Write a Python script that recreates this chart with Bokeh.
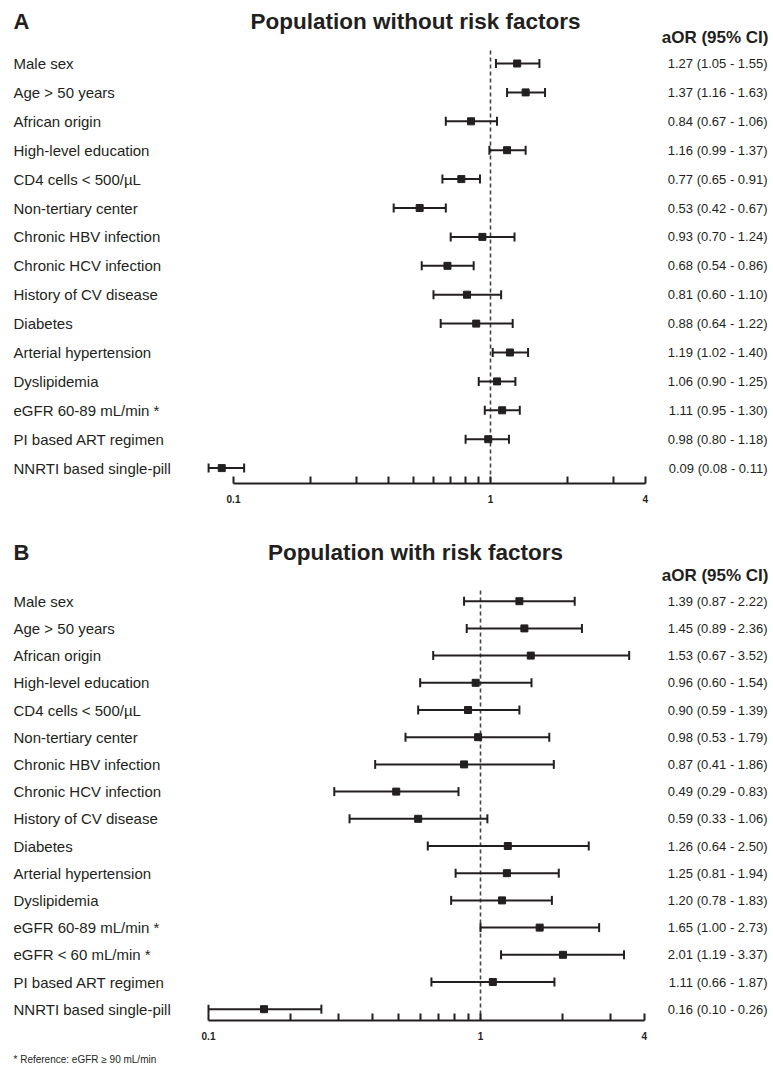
import numpy as np
from bokeh.plotting import figure
from bokeh.models import (Range1d, FixedTicker, CustomJSTickFormatter,
                          ColumnDataSource, LinearScale)
from bokeh.layouts import column
from bokeh.core.properties import value
from bokeh.embed import file_html
from bokeh.resources import INLINE

# ---------------- data ----------------
labels_a = ["Male sex", "Age > 50 years", "African origin", "High-level education",
            "CD4 cells < 500/µL", "Non-tertiary center", "Chronic HBV infection",
            "Chronic HCV infection", "History of CV disease", "Diabetes",
            "Arterial hypertension", "Dyslipidemia", "eGFR 60-89 mL/min *",
            "PI based ART regimen", "NNRTI based single-pill"]
aor_a = [1.27, 1.37, 0.84, 1.16, 0.77, 0.53, 0.93, 0.68, 0.81, 0.88, 1.19, 1.06, 1.11, 0.98, 0.09]
lo_a = [1.05, 1.16, 0.67, 0.99, 0.65, 0.42, 0.70, 0.54, 0.60, 0.64, 1.02, 0.90, 0.95, 0.80, 0.08]
hi_a = [1.55, 1.63, 1.06, 1.37, 0.91, 0.67, 1.24, 0.86, 1.10, 1.22, 1.40, 1.25, 1.30, 1.18, 0.11]

labels_b = ["Male sex", "Age > 50 years", "African origin", "High-level education",
            "CD4 cells < 500/µL", "Non-tertiary center", "Chronic HBV infection",
            "Chronic HCV infection", "History of CV disease", "Diabetes",
            "Arterial hypertension", "Dyslipidemia", "eGFR 60-89 mL/min *",
            "eGFR < 60 mL/min *", "PI based ART regimen", "NNRTI based single-pill"]
aor_b = [1.39, 1.45, 1.53, 0.96, 0.90, 0.98, 0.87, 0.49, 0.59, 1.26, 1.25, 1.20, 1.65, 2.01, 1.11, 0.16]
lo_b = [0.87, 0.89, 0.67, 0.60, 0.59, 0.53, 0.41, 0.29, 0.33, 0.64, 0.81, 0.78, 1.00, 1.19, 0.66, 0.10]
hi_b = [2.22, 2.36, 3.52, 1.54, 1.39, 1.79, 1.86, 0.83, 1.06, 2.50, 1.94, 1.83, 2.73, 3.37, 1.87, 0.26]

major_ticks = [0.1, 1, 4]
minor_ticks = [0.2, 0.3, 0.4, 0.5, 0.6, 0.7, 0.8, 0.9, 2, 3]

footnote = "* Reference: eGFR \u2265 90 mL/min"

INK = "#231f20"
FONT = value("Liberation Sans")
W = 773
ORIGIN_X = 0


def panel(letter, title, labels, aor, lo, hi, top_img, axis_img, bottom_border,
          row0, step, one_img, decade, title_y, header_y, dash_top):
    frame_h = axis_img - top_img
    H = frame_h + bottom_border
    left_img, right_img = ORIGIN_X, ORIGIN_X + W
    xs = 10 ** ((left_img - one_img) / decade)
    xe = 10 ** ((right_img - one_img) / decade)
    p = figure(width=W, height=H, x_axis_type="log",
               x_range=Range1d(xs, xe), y_range=Range1d(axis_img, top_img),
               output_backend="svg", toolbar_location=None, y_axis_location=None,
               min_border_left=0, min_border_right=0, min_border_top=0,
               min_border_bottom=bottom_border)
    p.extra_x_ranges = {"px": Range1d(left_img, right_img)}
    p.extra_x_scales = {"px": LinearScale()}
    p.outline_line_color = None
    p.grid.visible = False
    p.background_fill_color = "white"
    p.border_fill_color = "white"

    ax = p.xaxis[0]
    ax.bounds = (major_ticks[0], major_ticks[-1])
    ax.ticker = FixedTicker(ticks=major_ticks, minor_ticks=minor_ticks)
    ax.formatter = CustomJSTickFormatter(code="return tick.toString();")
    ax.axis_line_width = 2
    ax.axis_line_color = INK
    ax.major_tick_in = 7
    ax.major_tick_out = 0
    ax.minor_tick_in = 7
    ax.minor_tick_out = 0
    ax.major_tick_line_width = 2
    ax.minor_tick_line_width = 2
    ax.major_tick_line_color = INK
    ax.minor_tick_line_color = INK
    ax.major_label_text_font = "Liberation Sans"
    ax.major_label_text_font_style = "bold"
    ax.major_label_text_font_size = "10px"
    ax.major_label_text_color = INK
    ax.major_label_standoff = 11

    n = len(labels)
    ys = [row0 + step * i for i in range(n)]
    est = [f"{a:.2f} ({l:.2f} - {h:.2f})" for a, l, h in zip(aor, lo, hi)]
    src = ColumnDataSource(dict(label=labels, aor=aor, lo=lo, hi=hi, y=ys, est=est,
                                ylo=[y - 4.5 for y in ys], yhi=[y + 4.5 for y in ys],
                                xl=[13] * n, xr=[767] * n))

    # reference line at OR = 1
    p.segment(x0=[1], x1=[1], y0=[dash_top], y1=[axis_img], line_color="#444444",
              line_width=1.6, line_dash="4 3")

    # CIs
    p.segment(x0="lo", x1="hi", y0="y", y1="y", source=src, line_color=INK, line_width=2)
    p.segment(x0="lo", x1="lo", y0="ylo", y1="yhi", source=src, line_color=INK, line_width=2)
    p.segment(x0="hi", x1="hi", y0="ylo", y1="yhi", source=src, line_color=INK, line_width=2)
    p.scatter(x="aor", y="y", source=src, marker="square", size=7, fill_color=INK,
              line_color=INK)

    # row labels and estimates
    p.text(x="xl", y="y", text="label", source=src, x_range_name="px", text_font=FONT,
           text_font_size="15px", text_baseline="middle", text_align="left", text_color=INK)
    p.text(x="xr", y="y", text="est", source=src, x_range_name="px", text_font=FONT,
           text_font_size="13px", text_baseline="middle", text_align="right", text_color=INK)

    # headings
    p.text(x=[13], y=[title_y], text=[letter], x_range_name="px", text_font=FONT,
           text_font_size="22px", text_font_style="bold", text_baseline="middle",
           text_align="left", text_color=INK)
    p.text(x=[415], y=[title_y], text=[title], x_range_name="px", text_font=FONT,
           text_font_size="22.5px", text_font_style="bold", text_baseline="middle",
           text_align="center", text_color=INK)
    p.text(x=[768], y=[header_y], text=["aOR (95% CI)"], x_range_name="px", text_font=FONT,
           text_font_size="17px", text_font_style="bold", text_baseline="middle",
           text_align="right", text_color=INK)
    return p


pa = panel("A", "Population without risk factors", labels_a, aor_a, lo_a, hi_a,
           top_img=0, axis_img=483, bottom_border=32, row0=63, step=28.9,
           one_img=490, decade=257, title_y=21, header_y=37, dash_top=50)

pb = panel("B", "Population with risk factors", labels_b, aor_b, lo_b, hi_b,
           top_img=515, axis_img=1020, bottom_border=30, row0=600.7, step=27.2,
           one_img=480, decade=272, title_y=552, header_y=575, dash_top=590)

# footnote strip
pf = figure(width=W, height=1066 - 1050, x_range=Range1d(0, W), y_range=Range1d(1066, 1050),
            output_backend="svg", toolbar_location=None, x_axis_location=None,
            y_axis_location=None, min_border=0)
pf.outline_line_color = None
pf.grid.visible = False
pf.text(x=[13], y=[1059], text=[footnote], text_font=FONT, text_font_size="10px",
        text_baseline="middle", text_align="left", text_color=INK)

layout = column(pa, pb, pf, spacing=0)
open("out.html", "w").write(file_html(layout, INLINE))
